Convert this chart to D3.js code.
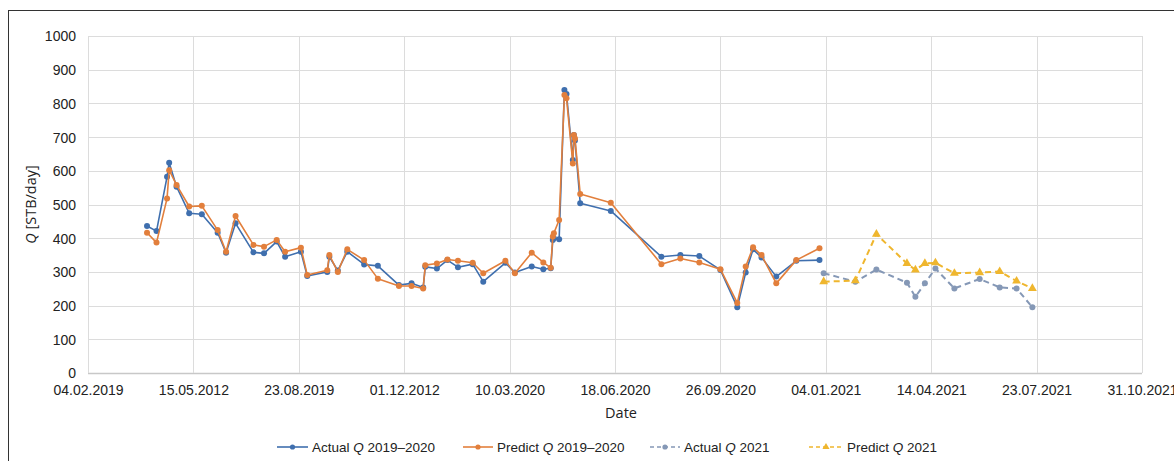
<!DOCTYPE html>
<html>
<head>
<meta charset="utf-8">
<script src="https://cdn.jsdelivr.net/npm/d3@7"></script>
<style>
  html, body { margin: 0; padding: 0; background: #fff; }
  svg { display: block; }
  .tick-label { font-family: "Liberation Sans", Arial, sans-serif; font-size: 14px; fill: #222; }
  .axis-title { font-family: "Open Sans", "Liberation Sans", sans-serif; font-size: 14.5px; fill: #222; }
  .legend-text { font-family: "Liberation Sans", Arial, sans-serif; font-size: 13.5px; fill: #222; }
</style>
</head>
<body>
<svg id="chart" width="1174" height="461"></svg>
<script>
// Production rate, actual vs. predicted (STB/day)
const dates1920 = [
  "2019-04-01","2019-04-10","2019-04-20","2019-04-22","2019-04-29","2019-05-11","2019-05-23","2019-06-07","2019-06-15","2019-06-24",
  "2019-07-11","2019-07-21","2019-08-02","2019-08-10","2019-08-25","2019-08-31","2019-09-19","2019-09-21","2019-09-29","2019-10-08",
  "2019-10-24","2019-11-06","2019-11-26","2019-12-08","2019-12-19","2019-12-21","2020-01-01","2020-01-11","2020-01-21","2020-02-04",
  "2020-02-14","2020-03-06","2020-03-15","2020-03-31","2020-04-11","2020-04-18","2020-04-20","2020-04-21","2020-04-26","2020-05-01",
  "2020-05-03","2020-05-09","2020-05-10","2020-05-11","2020-05-16","2020-06-14","2020-08-01","2020-08-19","2020-09-06","2020-09-26",
  "2020-10-12","2020-10-20","2020-10-27","2020-11-04","2020-11-18","2020-12-07","2020-12-29"
];
const actual1920 = [
  436,421,582,624,553,474,471,416,357,444,
  358,355,390,345,360,288,300,345,304,360,
  322,318,261,266,254,315,310,335,314,323,
  271,327,298,316,308,311,395,400,397,840,
  828,632,706,690,504,481,345,350,347,306,
  195,298,367,343,286,333,335
];
const predict1920 = [
  416,387,518,602,558,494,496,424,360,466,
  380,375,395,360,372,291,305,350,300,367,
  335,280,258,258,251,320,325,337,333,327,
  296,333,296,357,328,312,405,415,454,825,
  815,622,706,696,531,505,323,340,328,308,
  208,316,373,350,266,335,370
];

const dates2021 = [
  "2021-01-02","2021-02-01","2021-02-21","2021-03-22","2021-03-30","2021-04-08",
  "2021-04-18","2021-05-06","2021-05-30","2021-06-18","2021-07-04","2021-07-19"
];
const actual2021  = [296,271,307,268,226,266,310,251,279,254,251,195];
const predict2021 = [271,274,412,325,306,325,327,296,298,301,273,251];

const xTickDates = ["2019-02-04","2019-05-15","2019-08-23","2019-12-01","2020-03-10","2020-06-18",
                    "2020-09-26","2021-01-04","2021-04-14","2021-07-23","2021-10-31"];
const xTickLabels = ["04.02.2019","15.05.2012","23.08.2019","01.12.2012","10.03.2020","18.06.2020",
                     "26.09.2020","04.01.2021","14.04.2021","23.07.2021","31.10.2021"];
const yTicks = [0,100,200,300,400,500,600,700,800,900,1000];

const seriesNames = ["Actual Q 2019\u20132020","Predict Q 2019\u20132020","Actual Q 2021","Predict Q 2021"];

const parse = d3.utcParse("%Y-%m-%d");
const svg = d3.select("#chart");

const C = {
  actual: "#3f6fae",
  predict: "#e27f3c",
  actual21: "#8598b6",
  predict21: "#efb62e",
  grid: "#dcdcdc"
};

// outer frame
svg.append("rect")
  .attr("x", 8.5).attr("y", 10.5).attr("width", 1200).attr("height", 500)
  .attr("fill", "none").attr("stroke", "#333").attr("stroke-width", 1);

const x = d3.scaleUtc()
  .domain([parse(xTickDates[0]), parse(xTickDates[xTickDates.length - 1])])
  .range([88, 1142]);
const y = d3.scaleLinear().domain([0, 1000]).range([373, 36]);

// gridlines
const grid = svg.append("g");
grid.selectAll("line.h").data(yTicks).join("line")
  .attr("x1", x.range()[0]).attr("x2", x.range()[1])
  .attr("y1", d => Math.round(y(d)) + 0.5).attr("y2", d => Math.round(y(d)) + 0.5)
  .attr("stroke", d => d === 0 ? "#c8c8c8" : C.grid).attr("stroke-width", d => d === 0 ? 1.5 : 1);
grid.selectAll("line.v").data(xTickDates).join("line")
  .attr("x1", d => Math.round(x(parse(d))) + 0.5).attr("x2", d => Math.round(x(parse(d))) + 0.5)
  .attr("y1", y(1000)).attr("y2", y(0))
  .attr("stroke", C.grid).attr("stroke-width", 1);

// y axis
const yAxis = svg.append("g")
  .attr("transform", `translate(${x.range()[0]},0)`)
  .call(d3.axisLeft(y).tickValues(yTicks).tickSize(0).tickPadding(12).tickFormat(d3.format("d")));
yAxis.select(".domain").remove();
yAxis.selectAll("text").attr("class", "tick-label").attr("dy", "0.35em");

// x axis
const labelMap = new Map(xTickDates.map((d, i) => [+parse(d), xTickLabels[i]]));
const xAxis = svg.append("g")
  .attr("transform", `translate(0,${y(0)})`)
  .call(d3.axisBottom(x).tickValues(xTickDates.map(parse)).tickSize(0).tickPadding(12)
    .tickFormat(d => labelMap.get(+d)));
xAxis.select(".domain").remove();
xAxis.selectAll("text").attr("class", "tick-label");

// axis titles
const yt = svg.append("text").attr("class", "axis-title")
  .attr("transform", `translate(36,${(y(0) + y(1000)) / 2}) rotate(-90)`)
  .attr("text-anchor", "middle");
yt.append("tspan").attr("font-style", "italic").text("Q");
yt.append("tspan").text(" [STB/day]");

svg.append("text").attr("class", "axis-title")
  .attr("x", 621).attr("y", 418).attr("text-anchor", "middle").text("Date");

// series
function series(dates, values) {
  return dates.map((d, i) => ({ date: parse(d), value: values[i] }));
}
const line = d3.line().x(d => x(d.date)).y(d => y(d.value));
const tri = d3.symbol().type(d3.symbolTriangle).size(34);

const sets = [
  { data: series(dates1920, actual1920), color: C.actual, dash: null, width: 1.6, marker: "circle" },
  { data: series(dates1920, predict1920), color: C.predict, dash: null, width: 1.6, marker: "circle" },
  { data: series(dates2021, actual2021), color: C.actual21, dash: "6,4", width: 2, marker: "circle" },
  { data: series(dates2021, predict2021), color: C.predict21, dash: "6,4", width: 2, marker: "triangle" }
];

const marks = svg.append("g");
sets.forEach(s => {
  const g = marks.append("g");
  g.append("path").datum(s.data)
    .attr("d", line).attr("fill", "none")
    .attr("stroke", s.color).attr("stroke-width", s.width)
    .attr("stroke-dasharray", s.dash).attr("stroke-linejoin", "round");
  if (s.marker === "circle") {
    g.selectAll("circle").data(s.data).join("circle")
      .attr("cx", d => x(d.date)).attr("cy", d => y(d.value)).attr("r", 3)
      .attr("fill", s.color);
  } else {
    g.selectAll("path.m").data(s.data).join("path").attr("class", "m")
      .attr("d", tri).attr("transform", d => `translate(${x(d.date)},${y(d.value)})`)
      .attr("fill", s.color);
  }
});

// legend
const legendItems = [
  { name: seriesNames[0], color: C.actual, dash: null, marker: "circle", x0: 277, x1: 308 },
  { name: seriesNames[1], color: C.predict, dash: null, marker: "circle", x0: 463, x1: 493 },
  { name: seriesNames[2], color: C.actual21, dash: "4,3", marker: "circle", x0: 650, x1: 680 },
  { name: seriesNames[3], color: C.predict21, dash: "4,3", marker: "triangle", x0: 809, x1: 843 }
];
const ly = 447;
const legend = svg.append("g");
legendItems.forEach(it => {
  const g = legend.append("g");
  g.append("line").attr("x1", it.x0).attr("x2", it.x1).attr("y1", ly).attr("y2", ly)
    .attr("stroke", it.color).attr("stroke-width", 1.6).attr("stroke-dasharray", it.dash);
  const cx = (it.x0 + it.x1) / 2;
  if (it.marker === "circle") {
    g.append("circle").attr("cx", cx).attr("cy", ly).attr("r", 2.6).attr("fill", it.color);
  } else {
    g.append("path").attr("d", d3.symbol().type(d3.symbolTriangle).size(22))
      .attr("transform", `translate(${cx},${ly})`).attr("fill", it.color);
  }
  const parts = it.name.split("Q");
  const t = g.append("text").attr("class", "legend-text")
    .attr("x", it.x1 + 4).attr("y", ly).attr("dy", "0.35em");
  t.append("tspan").text(parts[0]);
  t.append("tspan").attr("font-style", "italic").text("Q");
  t.append("tspan").text(parts[1]);
});
</script>
</body>
</html>
